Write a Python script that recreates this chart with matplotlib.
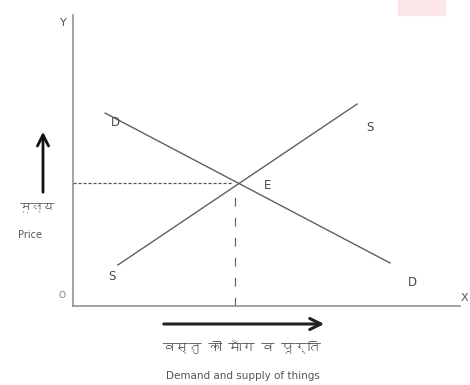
import numpy as np
import matplotlib
matplotlib.use("Agg")
import matplotlib.pyplot as plt
from matplotlib import font_manager
from matplotlib.ft2font import FT2Font
from matplotlib.patches import Rectangle

# ---- data (quantity on x, price on y, arbitrary 0-100 units) ----
demand_q = [8.3, 81.9]
demand_p = [66.3, 14.8]
supply_q = [11.6, 73.4]
supply_p = [14.1, 69.4]
curve_labels = ["D", "S", "E", "S", "D"]
x_label_hi = "वस्तु की माँग व पूर्ति"
x_label_en = "Demand and supply of things"
y_label_hi = "मूल्य"
y_label_en = "Price"

# ---- find a font with Devanagari glyphs ----
deva = None
for f in font_manager.fontManager.ttflist:
    try:
        cm = FT2Font(f.fname).get_charmap()
        if 0x0915 in cm and 0x0941 in cm:
            deva = f.name
            break
    except Exception:
        pass
hi_family = [deva, "DejaVu Sans"] if deva else ["DejaVu Sans"]

W, H = 470, 385
fig = plt.figure(figsize=(W / 100, H / 100), dpi=100)
fig.patch.set_facecolor("white")

# axes box in pixels: origin (73, 306) to (460, 15)
ax = fig.add_axes([73 / W, (H - 306) / H, (460 - 73) / W, (306 - 15) / H])
ax.set_xlim(0, 100)
ax.set_ylim(0, 100)
for s in ["top", "right"]:
    ax.spines[s].set_visible(False)
ax.spines["left"].set_color("#8a8a8a")
ax.spines["bottom"].set_color("#8a8a8a")
ax.spines["left"].set_linewidth(1.1)
ax.spines["bottom"].set_linewidth(1.1)
ax.set_xticks([])
ax.set_yticks([])
ax.patch.set_alpha(0)

line_col = "#606060"
ax.plot(demand_q, demand_p, color=line_col, lw=1.0)
ax.plot(supply_q, supply_p, color=line_col, lw=1.0)

# equilibrium from the two lines
md = (demand_p[1] - demand_p[0]) / (demand_q[1] - demand_q[0])
ms = (supply_p[1] - supply_p[0]) / (supply_q[1] - supply_q[0])
bd = demand_p[0] - md * demand_q[0]
bs = supply_p[0] - ms * supply_q[0]
eq_q = (bs - bd) / (md - ms)
eq_p = md * eq_q + bd

ax.plot([0, eq_q - 1.5], [eq_p, eq_p], color="#555555", lw=0.9,
        linestyle=(0, (2.5, 1.5)))
ax.plot([eq_q - 1, eq_q - 1], [0, eq_p - 2], color="#666666", lw=0.9,
        linestyle=(0, (7, 9)))

txt_col = "#4a4a4a"
fs = 8.5
ax.text(10.9, 63.2, curve_labels[0], fontsize=fs, color=txt_col, ha="center", va="center")
ax.text(76.7, 61.5, curve_labels[1], fontsize=fs, color=txt_col, ha="center", va="center")
ax.text(eq_q + 7.5, eq_p - 0.8, curve_labels[2], fontsize=fs, color=txt_col, ha="center", va="center")
ax.text(10.1, 10.0, curve_labels[3], fontsize=fs, color=txt_col, ha="center", va="center")
ax.text(87.6, 8.2, curve_labels[4], fontsize=fs, color=txt_col, ha="center", va="center")

# axis letters (figure pixels)
fig.text(63 / W, 362 / H, "Y", fontsize=8, color="#555555", ha="center", va="center")
fig.text(464 / W, 87 / H, "X", fontsize=8, color="#555555", ha="center", va="center")
fig.text(62 / W, 89 / H, "O", fontsize=6.5, color="#777777", ha="center", va="center")

# arrows
ax.annotate("", xy=(43, 256), xytext=(43, 190), xycoords="figure pixels",
            textcoords="figure pixels",
            arrowprops=dict(arrowstyle="->,head_length=0.8,head_width=0.4",
                            lw=2.0, color="#111111"))
ax.annotate("", xy=(327, 61), xytext=(161, 61), xycoords="figure pixels",
            textcoords="figure pixels",
            arrowprops=dict(arrowstyle="->,head_length=0.8,head_width=0.4",
                            lw=2.2, color="#222222"))

fig.text(38 / W, 178 / H, y_label_hi, fontsize=8.5, color=txt_col,
         ha="center", va="center", family=hi_family)
fig.text(30 / W, 150 / H, y_label_en, fontsize=7, color="#555555",
         ha="center", va="center")
fig.text(242 / W, 38 / H, x_label_hi, fontsize=9.5, color=txt_col,
         ha="center", va="center", family=hi_family)
fig.text(243 / W, 9 / H, x_label_en, fontsize=7.5, color="#555555",
         ha="center", va="center")

# faint pink scan smudge in top right
fig.patches.append(Rectangle((398 / W, 370 / H), 47 / W, 15 / H,
                             transform=fig.transFigure, color="#fde6e8",
                             zorder=0))

fig.savefig("out.png", dpi=100)
